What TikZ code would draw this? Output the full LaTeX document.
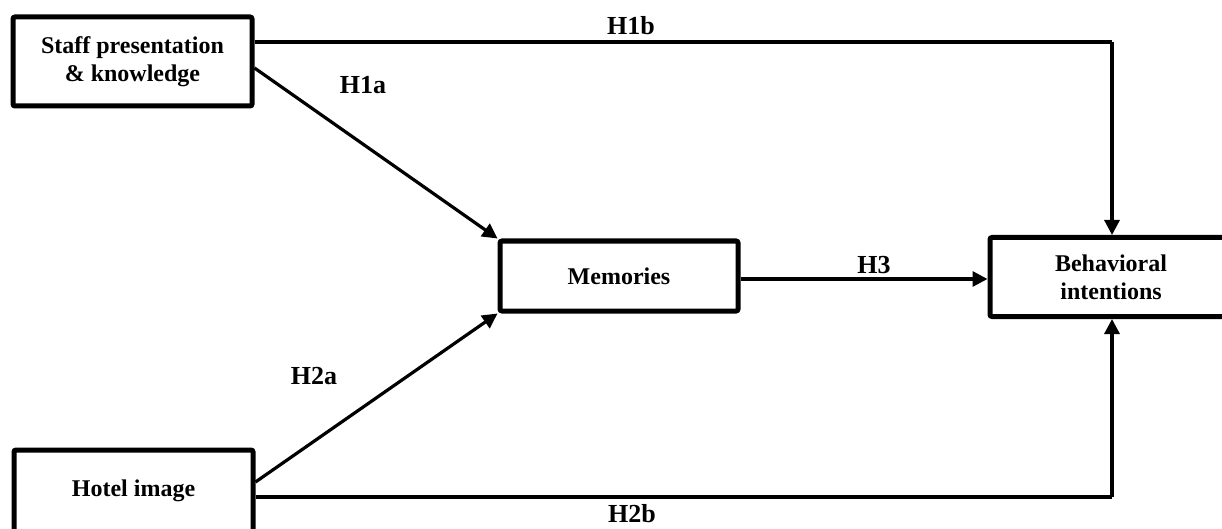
\documentclass[tikz,border=0pt]{standalone}
\usepackage{fontspec}
\setmainfont{Liberation Serif}
\usetikzlibrary{arrows.meta}
\begin{document}
\begin{tikzpicture}[x=1pt,y=-1pt,
  box/.style={draw=black,line width=5pt,rounded corners=2pt,fill=white,align=center,
    font=\fontsize{24}{28}\selectfont\bfseries,inner sep=0pt},
  conn/.style={line width=3.2pt,-{Triangle[length=15pt,width=15pt]}},
  plain/.style={line width=3.2pt},
  lab/.style={font=\fontsize{26}{30}\selectfont\bfseries,inner sep=0pt}]
\useasboundingbox (0,0) rectangle (1222,529);
\clip (0,0) rectangle (1222,529);
\node[box,minimum width=239pt,minimum height=89pt] (staff) at (132.5,61.5) {Staff presentation\\\& knowledge};
\node[box,minimum width=238pt,minimum height=70pt] (mem) at (619,276) {Memories};
\node[box,minimum width=242pt,minimum height=79pt] (beh) at (1111,277) {Behavioral\\intentions};
\node[box,minimum width=239pt,minimum height=82pt] (hotel) at (133.5,491) {Hotel image};
% connectors
\coordinate (s1) at (255,42);
\coordinate (s2) at (255,68);
\coordinate (h1) at (255,482);
\coordinate (h2) at (255,497);
\coordinate (c1) at (1112,42);
\coordinate (c2) at (1112,497);
\coordinate (m) at (0,279);
\draw[plain] (staff.east |- s1) -- (c1);
\draw[conn] (c1) -- (c1 |- beh.north);
\draw[conn] (staff.east |- s2) -- (mem.north west);
\draw[conn] (mem.east |- m) -- (beh.west |- m);
\draw[conn] (hotel.east |- h1) -- (mem.south west);
\draw[plain] (hotel.east |- h2) -- (c2);
\draw[conn] (c2) -- (c2 |- beh.south);
% labels
\node[lab] (l1b) at (631,26) {H1b};
\node[lab] (l1a) at (363,85) {H1a};
\node[lab] (l3) at (874,265) {H3};
\node[lab] (l2a) at (314,376) {H2a};
\node[lab] (l2b) at (632,514) {H2b};
\end{tikzpicture}
\end{document}
